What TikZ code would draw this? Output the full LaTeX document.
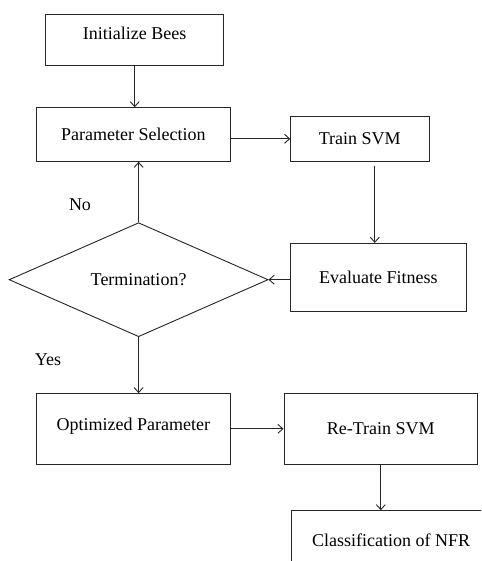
\documentclass[tikz,border=0pt]{standalone}
\usepackage{fontspec}
\setmainfont{Liberation Serif}
\usetikzlibrary{shapes.geometric,arrows.meta}
\begin{document}
\begin{tikzpicture}[x=1pt,y=-1pt,
  box/.style={draw=black!85, line width=0.9pt, rectangle, inner sep=0pt,
    text height=12pt, text depth=0pt, font=\fontsize{18}{21}\selectfont},
  arr/.style={draw=black!85, line width=0.9pt, -{Straight Barb[length=5pt,width=9pt]}},
  lbl/.style={font=\fontsize{18}{21}\selectfont, inner sep=0pt}]
\clip (0,0) rectangle (481,561);
\fill[white] (0,0) rectangle (481,561);

\node[box, minimum width=178pt, minimum height=51pt, text depth=11pt] (init) at (134.7,39.5) {Initialize Bees};
\node[box, minimum width=193.3pt, minimum height=53.6pt] (ps) at (133.3,134.5) {Parameter Selection};
\node[box, minimum width=138.3pt, minimum height=45pt] (tsvm) at (359.8,138.8) {Train SVM};
\node[box, minimum width=175.3pt, minimum height=67.7pt] (ef) at (378.3,277.2) {Evaluate Fitness};
\node[box, diamond, aspect=2.27, minimum width=259pt, minimum height=114pt] (dia) at (138.6,279.7) {Termination?\hspace{16pt}};
\node[box, minimum width=193.3pt, minimum height=70.3pt, text depth=9pt] (op) at (133.3,428.8) {Optimized Parameter\hspace{9pt}};
\node[box, minimum width=193.7pt, minimum height=70.3pt] (rt) at (380.8,428.8) {Re-Train SVM};
\node[box, minimum width=200pt, minimum height=80pt, text depth=21.4pt] (cls) at (391,550.7) {Classification of NFR\hspace{7pt}};

\node[lbl] (no) at (80,205) {No};
\node[lbl] (yes) at (48,360) {Yes};

\draw[arr] (init.south) -- (init.south |- ps.north);
\draw[arr] (ps.east |- tsvm.west) -- (tsvm.west);
\draw[arr, shorten <=4pt] ([xshift=15pt]tsvm.south) -- ([xshift=15pt]tsvm.south |- ef.north);
\draw[arr] (ef.west |- dia.east) -- (dia.east);
\draw[arr] (dia.north) -- (dia.north |- ps.south);
\draw[arr] (dia.south) -- (dia.south |- op.north);
\draw[arr] (op.east |- rt.west) -- (rt.west);
\draw[arr] (rt.south) -- (rt.south |- cls.north);
\end{tikzpicture}
\end{document}
